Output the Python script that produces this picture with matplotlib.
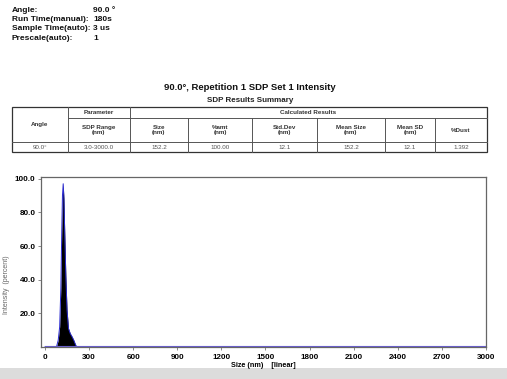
import matplotlib.pyplot as plt
import matplotlib.patches as patches

plt.rcParams['font.family'] = ['Liberation Sans', 'DejaVu Sans']

# run settings (top left block)
info_keys = ['Angle:', 'Run Time(manual):', 'Sample Time(auto):', 'Prescale(auto):']
info_vals = ['90.0 \u00b0', '180s', '3 us', '1']

# results summary table
col_heads = ['Angle', 'SDP Range\n(nm)', 'Size\n(nm)', '%amt\n(nm)', 'Std.Dev\n(nm)',
             'Mean Size\n(nm)', 'Mean SD\n(nm)', '%Dust']
row_vals = ['90.0\u00b0', '3.0-3000.0', '152.2', '100.00', '12.1', '152.2', '12.1', '1.392']

# size distribution
size_nm = [0, 78, 90, 100, 108, 114, 119, 124, 129, 135, 142, 150, 160, 172, 185, 196, 205, 215, 3000]
intensity = [0, 0, 4, 12, 35, 68, 90, 97, 88, 66, 42, 22, 11, 8, 6, 4, 2, 0, 0]

xticks = [0, 300, 600, 900, 1200, 1500, 1800, 2100, 2400, 2700, 3000]
yticks = [20, 40, 60, 80, 100]

fig = plt.figure(figsize=(5.07, 3.79), dpi=100)
fig.patch.set_facecolor('white')

# page layer in pixel units for the header text and table
pg = fig.add_axes([0, 0, 1, 1])
pg.set_xlim(0, 507)
pg.set_ylim(379, 0)
pg.axis('off')

for i, (k, v) in enumerate(zip(info_keys, info_vals)):
    y = 10 + i * 9.5
    pg.text(12, y, k, fontsize=6.0, fontweight='bold', va='center', color='#111111')
    pg.text(93, y, v, fontsize=6.0, fontweight='bold', va='center', color='#111111')

pg.text(250, 88, '90.0\u00b0, Repetition 1 SDP Set 1 Intensity', fontsize=6.8,
        fontweight='bold', ha='center', va='center', color='#111111')
pg.text(250, 101, 'SDP Results Summary', fontsize=5.8, fontweight='bold',
        ha='center', va='center', color='#222222')

cols = [12, 68, 130, 188, 252, 317, 385, 435, 487]
rows = [107, 118, 142, 152]
lc = '#555555'
pg.add_patch(patches.Rectangle((cols[0], rows[0]), cols[-1] - cols[0], rows[-1] - rows[0],
                               fill=False, edgecolor='#333333', lw=0.9))
for x in cols[1:-1]:
    top = rows[0] if x in (68, 130) else rows[1]
    pg.plot([x, x], [top, rows[-1]], color=lc, lw=0.7)
pg.plot([cols[1], cols[-1]], [rows[1], rows[1]], color=lc, lw=0.7)
pg.plot([cols[0], cols[-1]], [rows[2], rows[2]], color=lc, lw=0.7)

hfs = 4.5
pg.text((cols[1] + cols[2]) / 2, (rows[0] + rows[1]) / 2, 'Parameter', fontsize=hfs,
        fontweight='bold', ha='center', va='center', color='#333333')
pg.text((cols[2] + cols[-1]) / 2, (rows[0] + rows[1]) / 2, 'Calculated Results', fontsize=hfs,
        fontweight='bold', ha='center', va='center', color='#333333')
pg.text((cols[0] + cols[1]) / 2, (rows[0] + rows[2]) / 2, col_heads[0], fontsize=hfs,
        fontweight='bold', ha='center', va='center', color='#333333')
for i, h in enumerate(col_heads[1:], start=1):
    pg.text((cols[i] + cols[i + 1]) / 2, (rows[1] + rows[2]) / 2, h, fontsize=hfs,
            fontweight='bold', ha='center', va='center', color='#333333', linespacing=1.1)
for i, v in enumerate(row_vals):
    pg.text((cols[i] + cols[i + 1]) / 2, (rows[2] + rows[3]) / 2 + 0.5, v, fontsize=hfs,
            ha='center', va='center', color='#555555')

# window strip at the bottom
pg.add_patch(patches.Rectangle((0, 368), 507, 11, color='#dcdcdc', lw=0))

# distribution plot
ax = fig.add_axes([41 / 507, 32 / 379, 445 / 507, 170 / 379])
ax.fill_between(size_nm, intensity, color='black', lw=0)
ax.plot(size_nm, intensity, color='#2a2ad0', lw=0.7)
ax.plot([size_nm[0], size_nm[-1]], [0.6, 0.6], color='#6a5fd6', lw=0.8)
ax.set_xlim(-27, 3000)
ax.set_ylim(0, 101)
ax.set_xticks(xticks)
ax.set_xticklabels([str(t) for t in xticks])
ax.set_yticks(yticks)
ax.set_yticklabels(['%.1f' % t for t in yticks])
ax.tick_params(labelsize=5.8, length=2, width=0.6, color='#777777', pad=3)
ax.tick_params(axis='y', pad=2)
for lab in ax.get_xticklabels() + ax.get_yticklabels():
    lab.set_fontweight('bold')
for s in ax.spines.values():
    s.set_color('#666666')
    s.set_linewidth(0.9)
ax.set_xlabel('Size (nm)    [linear]', fontsize=5.2, fontweight='bold', labelpad=1)
fig.text(7 / 507, 0.25, 'Intensity  (percent)', rotation=90, fontsize=5,
         color='#666666', ha='center', va='center')

fig.savefig('out.png', dpi=100)
